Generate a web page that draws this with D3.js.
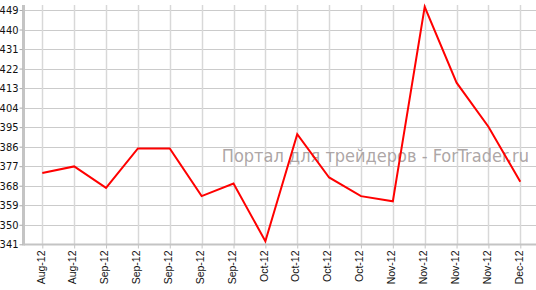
<!DOCTYPE html>
<html><head><meta charset="utf-8">
<script src="https://cdn.jsdelivr.net/npm/d3@7"></script>
<style>body{margin:0;background:#fff}svg{display:block}</style>
</head><body>
<svg id="c" width="536" height="290"></svg>
<script>
const categories = ["Aug-12","Aug-12","Sep-12","Sep-12","Sep-12","Sep-12","Sep-12","Oct-12","Oct-12","Oct-12","Oct-12","Nov-12","Nov-12","Nov-12","Nov-12","Dec-12"];
const values = [373.9,376.9,367.0,385.2,385.2,363.2,369.0,342.4,391.8,371.8,363.2,360.8,450.5,415.5,395.2,369.8];
const yTicks = [341,350,359,368,377,386,395,404,413,422,431,440,449];
const watermark = "Портал для трейдеров - ForTrader.ru";

(function () {
const svg = d3.select("#c");
const mLeft = 23.5, mRight = 536, mTop = 5, mBottom = 244.5;
const x = d3.scalePoint().domain(d3.range(categories.length)).range([42.3, 520.3]);
const y = d3.scaleLinear().domain([341, 449]).range([244.3, 10]);

svg.append("g").selectAll("line").data(yTicks).join("line")
  .attr("x1", mLeft).attr("x2", mRight)
  .attr("y1", d => Math.round(y(d)) + 0.5).attr("y2", d => Math.round(y(d)) + 0.5)
  .attr("stroke", "#cbcbcb").attr("stroke-width", 1);
svg.append("g").selectAll("line").data(d3.range(categories.length)).join("line")
  .attr("x1", d => Math.round(x(d)) + 0.5).attr("x2", d => Math.round(x(d)) + 0.5)
  .attr("y1", mTop).attr("y2", mBottom)
  .attr("stroke", "#d8d8d8").attr("stroke-width", 1.5);

svg.append("line").attr("x1", mLeft).attr("x2", mLeft).attr("y1", mTop).attr("y2", mBottom + 1)
  .attr("stroke", "#c4c4c4").attr("stroke-width", 3);
svg.append("line").attr("x1", mLeft).attr("x2", mRight).attr("y1", mBottom).attr("y2", mBottom)
  .attr("stroke", "#c4c4c4").attr("stroke-width", 2);

const yAxis = d3.axisLeft(y).tickValues(yTicks).tickSize(3).tickPadding(1);
const gy = svg.append("g").attr("transform", `translate(${mLeft - 1},0)`).call(yAxis);
gy.select(".domain").remove();
gy.selectAll(".tick line").attr("stroke", "#aaa");
gy.selectAll("text").attr("font-family", "DejaVu Sans Condensed, DejaVu Sans, sans-serif").attr("font-size", 11)
  .attr("fill", "#111");

const xAxis = d3.axisBottom(x).tickFormat(i => categories[i]).tickSize(4).tickPadding(3);
const gx = svg.append("g").attr("transform", `translate(0,${mBottom})`).call(xAxis);
gx.select(".domain").remove();
gx.selectAll(".tick line").attr("stroke", "#c4c4c4");
gx.selectAll("text").attr("font-family", "Liberation Sans, Arial, sans-serif").attr("font-size", 10.5)
  .attr("fill", "#111")
  .attr("transform", "rotate(-90)")
  .attr("text-anchor", "end").attr("dx", "-6").attr("dy", "-0.1em").attr("x", 0).attr("y", 0)
  .style("dominant-baseline", "middle");

svg.append("text").attr("x", 529).attr("y", 161.5).attr("text-anchor", "end")
  .attr("font-family", "DejaVu Sans Condensed, DejaVu Sans, sans-serif").attr("font-size", 18)
  .attr("fill", "#a39b9b").attr("fill-opacity", 0.9).text(watermark);

const line = d3.line().x((d, i) => x(i)).y(d => y(d));
svg.append("path").datum(values).attr("d", line).attr("fill", "none")
  .attr("stroke", "#ff0000").attr("stroke-width", 2).attr("stroke-linejoin", "miter");
})();
</script>
</body></html>
